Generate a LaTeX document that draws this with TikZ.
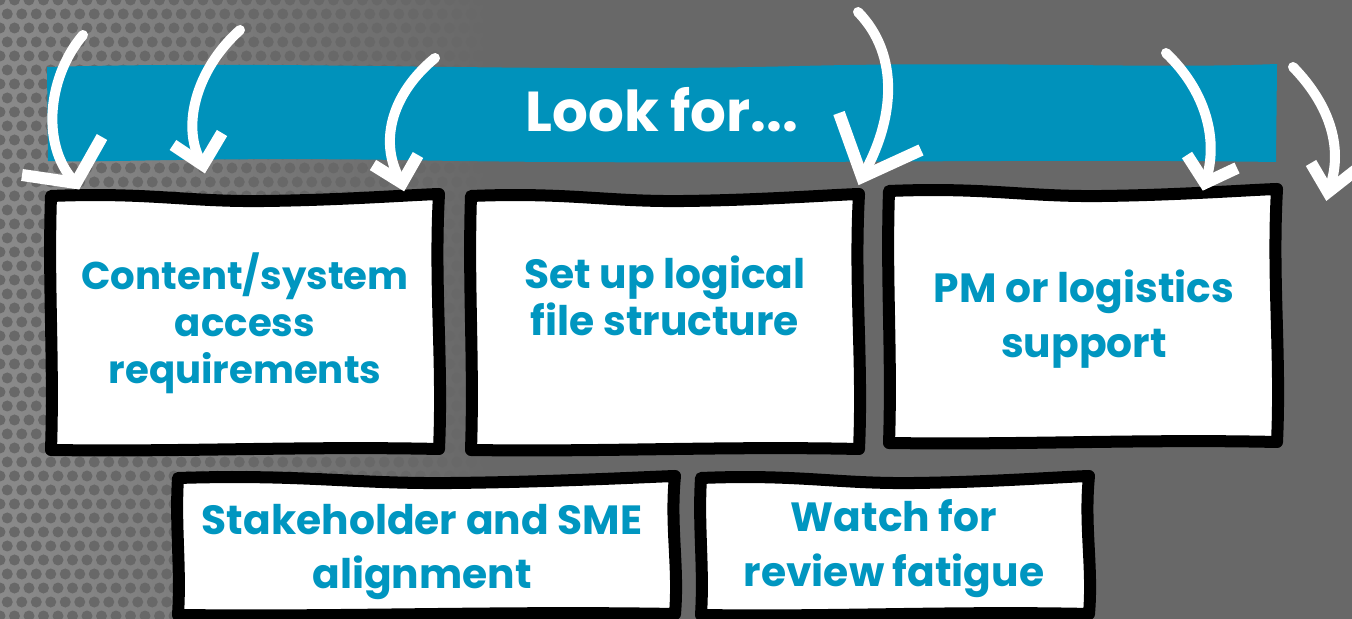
\documentclass[tikz,border=0pt]{standalone}
\usepackage{fontspec}
\setmainfont{Poppins}
\definecolor{bggray}{RGB}{104,104,104}
\definecolor{dotlight}{RGB}{138,138,138}
\definecolor{bandblue}{RGB}{0,146,187}
\definecolor{textblue}{RGB}{0,150,192}
\tikzset{
  sketch/.style={draw=black, fill=white, line width=0.12cm, line join=round},
  swoosh/.style={draw=white, line width=0.1cm, line cap=round},
  barb/.style={draw=white, line width=0.12cm, line cap=butt, line join=miter},
  boxtext/.style={text=textblue, font={\bfseries\fontsize{11.6}{13.4}\selectfont}, align=center, inner sep=0pt},
  widetext/.style={boxtext, font={\bfseries\fontsize{11.6}{15.6}\selectfont}},
}
\def\sketchbox(#1,#2)(#3,#4){\draw[sketch] (#1,#2)
    .. controls ({#1+0.25*(#3-#1)},{#2-4}) and ({#1+0.35*(#3-#1)},{#2+6}) .. ({#1+0.55*(#3-#1)},{#2+5})
    .. controls ({#1+0.75*(#3-#1)},{#2+4}) and ({#3-30},{#2-1}) .. (#3,{#2-2})
    .. controls ({#3-5},{#2+0.35*(#4-#2)}) and ({#3+4},{#2+0.65*(#4-#2)}) .. (#3,#4)
    .. controls ({#1+0.65*(#3-#1)},{#4-3}) and ({#1+0.35*(#3-#1)},{#4+3}) .. (#1,{#4+1})
    .. controls ({#1+3},{#2+0.65*(#4-#2)}) and ({#1-3},{#2+0.35*(#4-#2)}) .. cycle;}
\def\swooshto(#1)(#2)(#3)(#4)[#5][#6]{\draw[swoosh] (#1) .. controls (#2) and (#3) .. (#4);
  \draw[barb] (#5) -- (#4) -- (#6);}

\begin{document}
\begin{tikzpicture}[x=0.01cm, y=-0.01cm]
		%%%%% BACKGROUND %%%%%
		\useasboundingbox (0,0) rectangle (1352,619);
		\fill[bggray] (0,0) rectangle (1352,619);
		\shade[left color=dotlight, right color=bggray] (0,0) rectangle (490,619);
		\foreach \i in {0,...,36}{
			\foreach \j in {0,...,44}{
				\fill[bggray] ({\i*14.5+mod(\j,2)*7.25},{\j*14}) circle[radius=5.5];
			}
		}
		
		%%%%% BAND %%%%%
		\fill[bandblue] (47,67) .. controls (300,60) and (520,73) .. (800,66)
			.. controls (1000,61) and (1150,69) .. (1277,64) -- (1276,162)
			.. controls (1000,158) and (700,166) .. (400,160)
			.. controls (200,157) and (100,163) .. (48,161) -- cycle;
		\node[anchor=base, text=white, inner sep=0pt, font={\bfseries\fontsize{16}{19}\selectfont}] (lookfor) at (662,132) {Look for...};
		
		%%%%% BOXES %%%%%
		\sketchbox(51,196)(439,449)
		\sketchbox(471,196)(859,449)
		\sketchbox(889,191)(1277,442)
		\sketchbox(178,478)(675,614)
		\sketchbox(701,478)(1089,614)
		
		\node[boxtext, font={\bfseries\fontsize{11}{13.4}\selectfont}] (access) at (245,323) {Content/system\\access\\requirements};
		\node[boxtext] (filestruct) at (665,296) {Set up logical\\file structure};
		\node[widetext] (logistics) at (1084,319) {PM or logistics\\support};
		\node[widetext] (alignment) at (422,552) {Stakeholder and SME\\alignment};
		\node[widetext] (fatigue) at (894,549) {Watch for\\review fatigue};
		
		%%%%% ARROWS %%%%%
		\swooshto(83,35)(45,80)(42,150)(76,183)[22,175][102,137]
		\swooshto(240,30)(195,70)(180,130)(203,165)[173,145][222,133]
		\swooshto(435,58)(390,95)(378,145)(402,183)[373,165][418,155]
		\swooshto(858,12)(900,55)(895,120)(862,177)[839,113][921,150]
		\swooshto(1166,53)(1205,90)(1220,140)(1205,183)[1187,155][1237,168]
		\swooshto(1293,67)(1330,105)(1345,150)(1328,192)[1311,163][1356,170]
		
		%%%%% END %%%%%
	\end{tikzpicture}
\end{document}
